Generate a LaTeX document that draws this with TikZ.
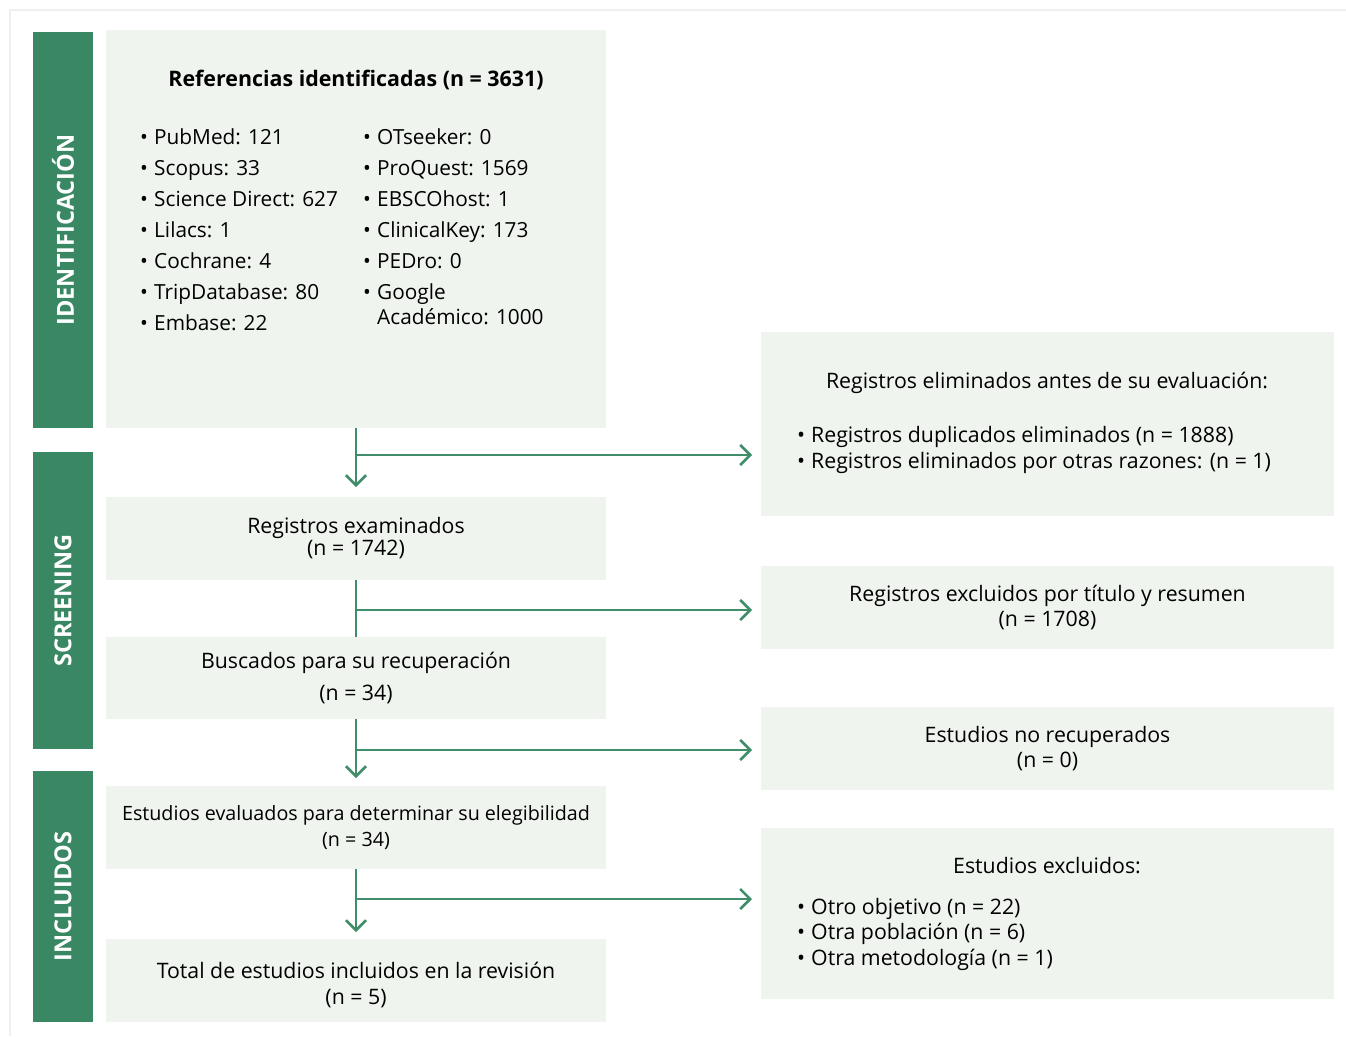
\documentclass[tikz,border=0pt]{standalone}
\usepackage{fontspec}
\setmainfont{Open Sans}
\usetikzlibrary{positioning, arrows.meta}
\definecolor{barGreen}{HTML}{3A8764}
\definecolor{boxFill}{HTML}{EFF4EE}
\definecolor{lineGreen}{HTML}{3F8D69}
\definecolor{frameGrey}{HTML}{EEF2ED}
\newcommand{\itm}{\makebox[14pt][l]{•}}

\begin{document}
\begin{tikzpicture}[x=1pt,y=-1pt]
\tikzstyle{phase}=[fill=barGreen, inner sep=0pt, outer sep=0pt, anchor=north west, minimum width=60pt]
\tikzstyle{phasetext}=[text=white, font=\fontsize{23.5}{25}\selectfont\bfseries, rotate=90]
\tikzstyle{box}=[fill=boxFill, inner sep=0pt, outer sep=0pt, anchor=north west, align=center, font=\fontsize{21.3}{25}\selectfont]
\tikzstyle{txt}=[inner sep=0pt, font=\fontsize{21.3}{25.5}\selectfont]
\tikzstyle{flow}=[draw=lineGreen, line width=2.6pt, -{Straight Barb[length=10pt,width=20pt]}]
\tikzstyle{stem}=[draw=lineGreen, line width=2.6pt]

\useasboundingbox (0,0) rectangle (1346,1036);
\draw[frameGrey, line width=2pt] (10,1036) -- (10,10) -- (1346,10);

\node[phase, minimum height=396pt] (idbar) at (33,32) {};
\node[phase, minimum height=297pt] (scbar) at (33,452) {};
\node[phase, minimum height=251pt] (inbar) at (33,771) {};
\node[phasetext] (idlabel) at (idbar.center) {IDENTIFICACIÓN};
\node[phasetext] (sclabel) at (scbar.center) {SCREENING};
\node[phasetext] (inlabel) at (inbar.center) {INCLUIDOS};

\node[box, minimum width=500pt, minimum height=398pt] (ref) at (106,30) {};
\node[txt, font=\fontsize{21.4}{25}\selectfont\bfseries] (reftitle) at (356,80) {Referencias identificadas (n = 3631)};
\node[txt, align=left, anchor=north west, font=\fontsize{20.8}{31}\selectfont] (refA) at (140,128) {\itm PubMed: 121\\ \itm Scopus: 33\\ \itm Science Direct: 627\\ \itm Lilacs: 1\\ \itm Cochrane: 4\\ \itm TripDatabase: 80\\ \itm Embase: 22};
\node[txt, align=left, anchor=north west, font=\fontsize{20.8}{31}\selectfont] (refB) at (363,128) {\itm OTseeker: 0\\ \itm ProQuest: 1569\\ \itm EBSCOhost: 1\\ \itm ClinicalKey: 173\\ \itm PEDro: 0\\ \itm Google\\[-6pt] \hspace*{14pt}Académico: 1000};

\node[box, minimum width=500pt, minimum height=83pt] (exam) at (106,497) {Registros examinados\\[-3pt](n = 1742)};
\node[box, minimum width=500pt, minimum height=82pt] (busc) at (106,637) {Buscados para su recuperación\\[7pt](n = 34)};
\node[box, minimum width=500pt, minimum height=83pt, font=\fontsize{19.7}{26}\selectfont] (eval) at (106,786) {Estudios evaluados para determinar su elegibilidad\\(n = 34)};
\node[box, minimum width=500pt, minimum height=83pt] (total) at (106,939) {};
\node[txt, align=center] (totaltext) at (356,985) {Total de estudios incluidos en la revisión\\(n = 5)};

\node[box, minimum width=573pt, minimum height=184pt] (elim) at (761,332) {};
\node[txt] (elimtitle) at (1047,383) {Registros eliminados antes de su evaluación:};
\node[txt, align=left, anchor=north west, font=\fontsize{21.3}{26}\selectfont] (elimlist) at (797,426) {\itm Registros duplicados eliminados (n = 1888)\\ \itm Registros eliminados por otras razones: (n = 1)};
\node[box, minimum width=573pt, minimum height=83pt] (excl) at (761,566) {Registros excluidos por título y resumen\\(n = 1708)};
\node[box, minimum width=573pt, minimum height=83pt] (norec) at (761,707) {Estudios no recuperados\\(n = 0)};
\node[box, minimum width=573pt, minimum height=171pt] (exest) at (761,828) {};
\node[txt] (exesttitle) at (1047,866) {Estudios excluidos:};
\node[txt, align=left, anchor=north west] (exestlist) at (797,898) {\itm Otro objetivo (n = 22)\\ \itm Otra población (n = 6)\\ \itm Otra metodología (n = 1)};

\coordinate (j1) at (356,455);
\coordinate (j2) at (356,610);
\coordinate (j3) at (356,750);
\coordinate (j4) at (356,899);

\draw[flow, shorten >=10pt] (ref) -- (exam);
\draw[stem] (exam) -- (busc);
\draw[flow, shorten >=8pt] (busc) -- (eval);
\draw[flow, shorten >=7pt] (eval) -- (total);
\draw[flow, shorten >=9pt] (j1) -- (j1 -| elim.west);
\draw[flow, shorten >=9pt] (j2) -- (j2 -| excl.west);
\draw[flow, shorten >=9pt] (j3) -- (j3 -| norec.west);
\draw[flow, shorten >=9pt] (j4) -- (j4 -| exest.west);

\end{tikzpicture}
\end{document}
